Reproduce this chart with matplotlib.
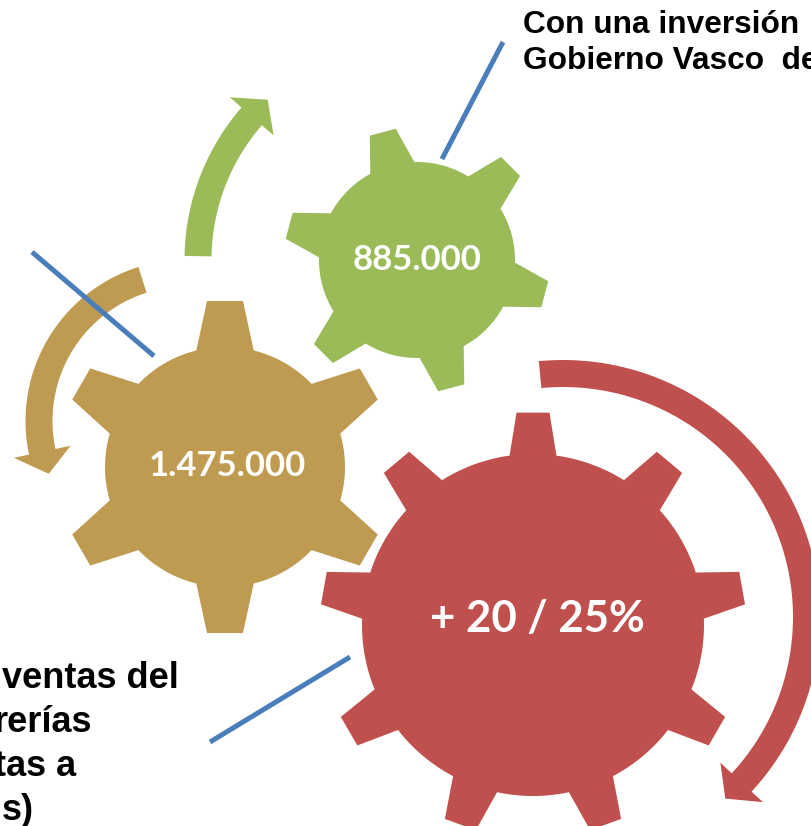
import numpy as np
import matplotlib
matplotlib.use("Agg")
import matplotlib.pyplot as plt
from matplotlib.patches import Polygon

# gears: green, tan, red
gear_labels = ["885.000", "1.475.000", "+ 20 / 25%"]
gear_colors = ["#9BBB59", "#BF9B52", "#C0504D"]
gear_cx = [417, 225, 533]
gear_cy = [260, 467, 625]
gear_r_body = [98, 120, 171]
gear_r_tip = [133, 167, 213]
gear_teeth = [6, 6, 9]
gear_first_tooth = [105, 30, 90]     # degrees
gear_half_base = [23, 29, 23.5]
gear_half_tip = [13.5, 18, 16.5]
label_size = [25, 25, 31.5]
label_dx = [0, 2, 4]
label_dy = [0, -1, -6]

# circular arrows (same order of colours)
arrow_cx = [417, 187, 563]
arrow_cy = [260, 421, 617]
arrow_r = [219, 148, 243.5]
arrow_start = [179, 107.5, 95.4]
arrow_end = [139, 192, -42.8]

# callout lines
callout_x = [(503, 442), (32, 154), (210, 350)]
callout_y = [(42, 159), (252, 356), (742, 657)]

top_lines = ["Con una inversión", "Gobierno Vasco  de"]
bottom_lines = ["ventas del", "rerías", "tas a", "s)"]
bottom_right_edge = [179, 92, 76, 34]


def pt(cx, cy, r, a):
    return (cx + r * np.cos(a), cy - r * np.sin(a))


def gear_outline(cx, cy, rb, rt, n, first, hb, ht):
    pts = []
    step = 2 * np.pi / n
    bb = hb / rb
    bt = ht / rt
    for k in range(n):
        a = np.radians(first) + k * step
        for t in np.linspace(a - step + bb, a - bb, 25):
            pts.append(pt(cx, cy, rb, t))
        pts.append(pt(cx, cy, rt, a - bt))
        pts.append(pt(cx, cy, rt, a + bt))
    return pts


def arc_arrow(cx, cy, r, a0, a1, width=27, head_half=29, head_len=23):
    a0 = np.radians(a0)
    a1 = np.radians(a1)
    sign = np.sign(a1 - a0)
    ts = np.linspace(a0, a1, 80)
    outer = [pt(cx, cy, r + width / 2, t) for t in ts]
    inner = [pt(cx, cy, r - width / 2, t) for t in ts[::-1]]
    head = [pt(cx, cy, r + head_half, a1),
            pt(cx, cy, r, a1 + sign * head_len / r),
            pt(cx, cy, r - head_half, a1)]
    return outer + head + inner


fig = plt.figure(figsize=(8.11, 8.26), dpi=100)
ax = fig.add_axes([0, 0, 1, 1])
ax.set_xlim(0, 811)
ax.set_ylim(826, 0)
ax.axis("off")

for i in range(3):
    ax.add_patch(Polygon(arc_arrow(arrow_cx[i], arrow_cy[i], arrow_r[i],
                                   arrow_start[i], arrow_end[i]),
                         closed=True, facecolor=gear_colors[i],
                         edgecolor="none", zorder=1))

for i in range(3):
    outline = gear_outline(gear_cx[i], gear_cy[i], gear_r_body[i], gear_r_tip[i],
                           gear_teeth[i], gear_first_tooth[i],
                           gear_half_base[i], gear_half_tip[i])
    ax.add_patch(Polygon(outline, closed=True, facecolor=gear_colors[i],
                         edgecolor="none", zorder=2))
    ax.text(gear_cx[i] + label_dx[i], gear_cy[i] + label_dy[i],
            gear_labels[i], color="white", fontsize=label_size[i],
            fontweight="bold", family="Lato", ha="center", va="center", zorder=4)

for xs, ys in zip(callout_x, callout_y):
    ax.plot(xs, ys, color="#4A7EBB", linewidth=3.6, solid_capstyle="butt", zorder=3)

for j, line in enumerate(top_lines):
    ax.text(523, 33 + 36 * j, line, fontsize=22.8, fontweight="bold",
            family="Liberation Sans", color="black", ha="left", va="baseline")

# the caption continues past the left edge, as in the reference
for j, line in enumerate(bottom_lines):
    ax.text(bottom_right_edge[j], 688 + 44 * j, line, fontsize=26, fontweight="bold",
            family="Liberation Sans", color="black", ha="right", va="baseline")

fig.savefig("out.png", dpi=100)
